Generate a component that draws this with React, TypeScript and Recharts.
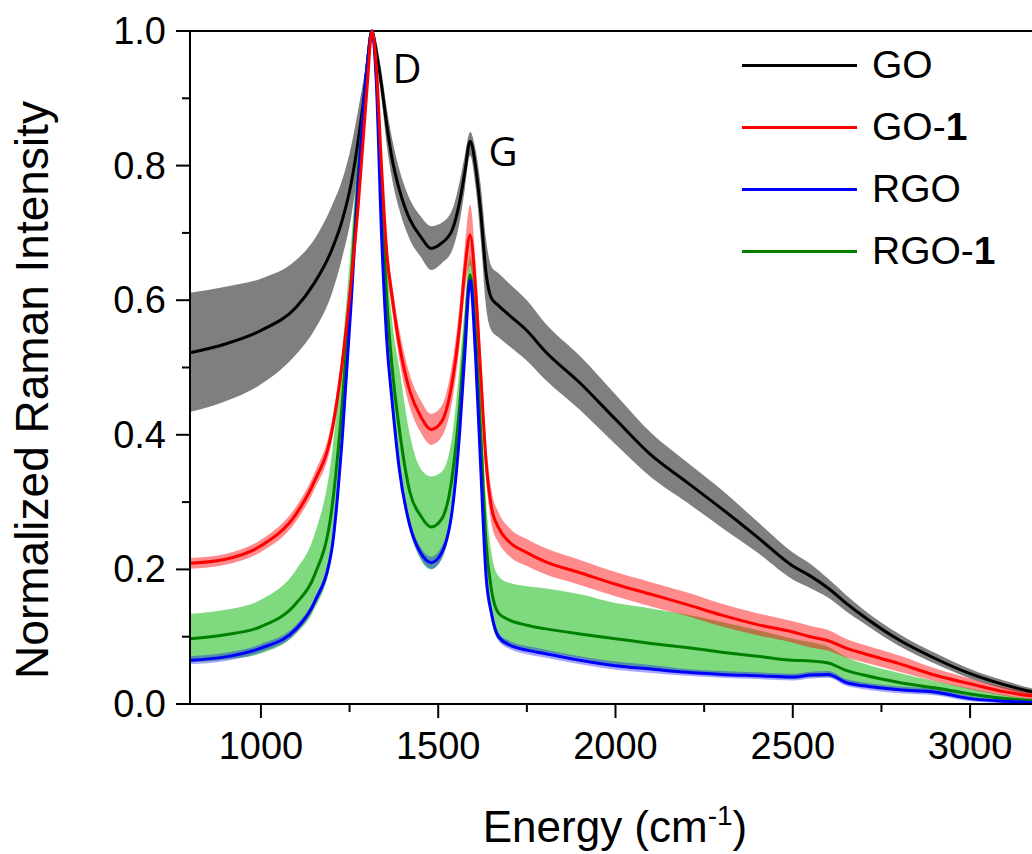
import React from 'react';
import { ComposedChart, Area, Line, XAxis, YAxis, ReferenceLine, ReferenceDot, Legend } from 'recharts';

// Raman shift (cm-1)
const ENERGY = [
  800, 900, 1000, 1100, 1150, 1200, 1230, 1255, 1275, 1290,
  1300, 1313, 1325, 1340, 1355, 1370, 1390, 1420, 1450, 1480,
  1510, 1540, 1560, 1575, 1590, 1605, 1620, 1635, 1650, 1670,
  1700, 1750, 1800, 1900, 2000, 2100, 2200, 2300, 2400, 2500,
  2550, 2600, 2650, 2700, 2800, 2900, 3000, 3100, 3200,
];

const GO_MEAN = [
  0.522, 0.535, 0.555, 0.59, 0.625, 0.675, 0.72, 0.775, 0.84, 0.9,
  0.95, 1.0, 0.97, 0.92, 0.86, 0.81, 0.765, 0.72, 0.695, 0.677,
  0.685, 0.705, 0.745, 0.79, 0.836, 0.8, 0.73, 0.64, 0.603, 0.592,
  0.578, 0.555, 0.525, 0.477, 0.423, 0.37, 0.33, 0.29, 0.248, 0.205,
  0.19, 0.172, 0.15, 0.13, 0.095, 0.068, 0.045, 0.028, 0.015,
];
const GO_LOW = [
  0.434, 0.45, 0.475, 0.52, 0.555, 0.61, 0.665, 0.725, 0.8, 0.87,
  0.93, 0.99, 0.955, 0.9, 0.83, 0.78, 0.735, 0.69, 0.665, 0.645,
  0.655, 0.675, 0.715, 0.765, 0.815, 0.77, 0.69, 0.59, 0.555, 0.545,
  0.532, 0.51, 0.483, 0.437, 0.386, 0.337, 0.3, 0.262, 0.225, 0.185,
  0.172, 0.158, 0.138, 0.12, 0.086, 0.06, 0.038, 0.022, 0.01,
];
const GO_HIGH = [
  0.611, 0.62, 0.632, 0.66, 0.69, 0.74, 0.78, 0.83, 0.885, 0.93,
  0.965, 1.0, 0.985, 0.94, 0.885, 0.84, 0.795, 0.75, 0.725, 0.71,
  0.715, 0.735, 0.775, 0.815, 0.85, 0.825, 0.77, 0.69, 0.65, 0.64,
  0.625, 0.6, 0.567, 0.517, 0.46, 0.403, 0.36, 0.318, 0.271, 0.225,
  0.208, 0.186, 0.162, 0.14, 0.104, 0.076, 0.052, 0.034, 0.02,
];

const GO1_MEAN = [
  0.209, 0.215, 0.235, 0.283, 0.33, 0.405, 0.51, 0.63, 0.745, 0.85,
  0.92, 1.0, 0.95, 0.8, 0.67, 0.605, 0.535, 0.465, 0.428, 0.408,
  0.42, 0.48, 0.56, 0.645, 0.697, 0.62, 0.49, 0.36, 0.293, 0.262,
  0.241, 0.225, 0.212, 0.195, 0.178, 0.163, 0.148, 0.132, 0.118, 0.107,
  0.1, 0.094, 0.083, 0.075, 0.06, 0.043, 0.03, 0.018, 0.01,
];
const GO1_LOW = [
  0.201, 0.207, 0.226, 0.272, 0.318, 0.39, 0.495, 0.615, 0.73, 0.837,
  0.908, 0.99, 0.935, 0.78, 0.65, 0.585, 0.512, 0.441, 0.404, 0.385,
  0.397, 0.452, 0.53, 0.61, 0.652, 0.58, 0.455, 0.335, 0.268, 0.24,
  0.22, 0.205, 0.193, 0.177, 0.16, 0.145, 0.131, 0.115, 0.102, 0.091,
  0.084, 0.079, 0.069, 0.062, 0.048, 0.034, 0.022, 0.012, 0.005,
];
const GO1_HIGH = [
  0.217, 0.223, 0.244, 0.294, 0.342, 0.42, 0.525, 0.645, 0.76, 0.863,
  0.932, 1.0, 0.965, 0.82, 0.69, 0.625, 0.558, 0.489, 0.452, 0.431,
  0.443, 0.508, 0.59, 0.68, 0.742, 0.66, 0.525, 0.39, 0.318, 0.285,
  0.262, 0.245, 0.232, 0.214, 0.196, 0.181, 0.166, 0.149, 0.135, 0.123,
  0.116, 0.11, 0.097, 0.088, 0.072, 0.053, 0.038, 0.024, 0.015,
];

const RGO_MEAN = [
  0.065, 0.07, 0.083, 0.112, 0.15, 0.23, 0.4, 0.6, 0.78, 0.89,
  0.95, 1.0, 0.93, 0.7, 0.54, 0.45, 0.35, 0.265, 0.225, 0.21,
  0.225, 0.29, 0.4, 0.52, 0.63, 0.52, 0.35, 0.19, 0.135, 0.1,
  0.088, 0.08, 0.075, 0.065, 0.057, 0.052, 0.047, 0.044, 0.042, 0.04,
  0.043, 0.044, 0.032, 0.027, 0.021, 0.018, 0.008, 0.004, 0.002,
];
const RGO_LOW = [
  0.059, 0.064, 0.077, 0.106, 0.144, 0.223, 0.392, 0.592, 0.772, 0.884,
  0.944, 0.995, 0.923, 0.692, 0.532, 0.442, 0.342, 0.257, 0.217, 0.201,
  0.216, 0.282, 0.392, 0.512, 0.622, 0.512, 0.342, 0.183, 0.129, 0.094,
  0.082, 0.074, 0.069, 0.059, 0.051, 0.046, 0.042, 0.039, 0.037, 0.035,
  0.038, 0.039, 0.027, 0.022, 0.016, 0.013, 0.004, 0.001, 0.0,
];
const RGO_HIGH = [
  0.071, 0.076, 0.089, 0.118, 0.156, 0.237, 0.408, 0.608, 0.788, 0.896,
  0.956, 1.0, 0.937, 0.708, 0.548, 0.458, 0.358, 0.273, 0.233, 0.219,
  0.234, 0.298, 0.408, 0.528, 0.638, 0.528, 0.358, 0.197, 0.141, 0.106,
  0.094, 0.086, 0.081, 0.071, 0.063, 0.058, 0.052, 0.049, 0.047, 0.045,
  0.048, 0.049, 0.037, 0.032, 0.026, 0.023, 0.012, 0.007, 0.004,
];

const RGO1_MEAN = [
  0.097, 0.103, 0.115, 0.15, 0.19, 0.29, 0.45, 0.63, 0.79, 0.89,
  0.95, 1.0, 0.94, 0.76, 0.6, 0.5, 0.41, 0.315, 0.28, 0.263,
  0.275, 0.34, 0.44, 0.545, 0.638, 0.55, 0.4, 0.24, 0.17, 0.135,
  0.125, 0.117, 0.112, 0.104, 0.097, 0.09, 0.084, 0.077, 0.071, 0.065,
  0.064, 0.061, 0.05, 0.043, 0.032, 0.024, 0.015, 0.008, 0.004,
];
const RGO1_LOW = [
  0.062, 0.066, 0.075, 0.105, 0.14, 0.22, 0.38, 0.58, 0.76, 0.87,
  0.93, 0.99, 0.92, 0.71, 0.55, 0.44, 0.35, 0.26, 0.215, 0.2,
  0.215, 0.29, 0.4, 0.51, 0.62, 0.51, 0.35, 0.19, 0.125, 0.095,
  0.085, 0.08, 0.077, 0.068, 0.058, 0.053, 0.048, 0.044, 0.041, 0.037,
  0.04, 0.04, 0.032, 0.028, 0.02, 0.015, 0.007, 0.003, 0.001,
];
const RGO1_HIGH = [
  0.134, 0.14, 0.155, 0.2, 0.25, 0.37, 0.53, 0.69, 0.83, 0.92,
  0.97, 1.0, 0.96, 0.8, 0.66, 0.57, 0.5, 0.4, 0.35, 0.338,
  0.345, 0.4, 0.5, 0.59, 0.665, 0.6, 0.46, 0.3, 0.225, 0.19,
  0.18, 0.175, 0.172, 0.163, 0.15, 0.142, 0.133, 0.122, 0.11, 0.097,
  0.092, 0.085, 0.07, 0.06, 0.046, 0.034, 0.023, 0.013, 0.007,
];

const X_TICKS = [1000, 1250, 1500, 1750, 2000, 2250, 2500, 2750, 3000];
const X_MAJOR = [1000, 1500, 2000, 2500, 3000];
const Y_TICKS = [0, 0.1, 0.2, 0.3, 0.4, 0.5, 0.6, 0.7, 0.8, 0.9, 1.0];
const Y_MAJOR = [0, 0.2, 0.4, 0.6, 0.8, 1.0];

const LEGEND_NAMES = ['GO', 'GO-', 'RGO', 'RGO-'];
const LEGEND_BOLD = ['', '1', '', '1'];
const LINE_COLORS = ['#000000', '#ff0000', '#0000ff', '#008000'];

const rows = ENERGY.map((e, i) => ({
  e,
  go: GO_MEAN[i],
  goBand: [GO_LOW[i], GO_HIGH[i]],
  go1: GO1_MEAN[i],
  go1Band: [GO1_LOW[i], GO1_HIGH[i]],
  rgo: RGO_MEAN[i],
  rgoBand: [RGO_LOW[i], RGO_HIGH[i]],
  rgo1: RGO1_MEAN[i],
  rgo1Band: [RGO1_LOW[i], RGO1_HIGH[i]],
}));

const FONT = '"Liberation Sans", Arial, sans-serif';

const XTick = (props: any) => {
  const { x, y, payload } = props;
  const major = X_MAJOR.includes(payload.value);
  return (
    <g>
      <line x1={x} x2={x} y1={y} y2={y + (major ? 14 : 8)} stroke="#000" strokeWidth={2} />
      {major && (
        <text x={x} y={y + 55} textAnchor="middle" fontSize={38} fontFamily={FONT} fill="#000">
          {payload.value}
        </text>
      )}
    </g>
  );
};

const YTick = (props: any) => {
  const { x, y, payload } = props;
  const major = Y_MAJOR.some((v) => Math.abs(v - payload.value) < 1e-6);
  return (
    <g>
      <line x1={x - (major ? 14 : 8)} x2={x} y1={y} y2={y} stroke="#000" strokeWidth={2} />
      {major && (
        <text x={x - 24} y={y + 13} textAnchor="end" fontSize={38} fontFamily={FONT} fill="#000">
          {payload.value.toFixed(1)}
        </text>
      )}
    </g>
  );
};

const renderLegend = () => (
  <div style={{ fontFamily: FONT, color: '#000' }}>
    {LEGEND_NAMES.map((name, i) => (
      <div key={name} style={{ display: 'flex', alignItems: 'center', height: 62 }}>
        <div style={{ width: 115, height: 3, background: LINE_COLORS[i] }} />
        <span style={{ marginLeft: 15, fontSize: 39, lineHeight: '62px' }}>
          {name}
          {LEGEND_BOLD[i] && <b>{LEGEND_BOLD[i]}</b>}
        </span>
      </div>
    ))}
  </div>
);

export default function App() {
  return (
    <div style={{ position: 'absolute', left: 0, top: 0, width: 1032, height: 854, overflow: 'hidden', background: '#fff' }}>
      <ComposedChart width={1041} height={854} data={rows} margin={{ top: 31, right: 0, bottom: 0, left: 0 }}>
        <XAxis
          dataKey="e"
          type="number"
          domain={[800, 3200]}
          ticks={X_TICKS}
          interval={0}
          tickSize={0}
          tickMargin={0}
          tick={<XTick />}
          axisLine={{ stroke: '#000', strokeWidth: 2 }}
          height={150}
          label={{
            content: () => (
              <text x={615} y={842} textAnchor="middle" fontSize={44} fontFamily={FONT} fill="#000">
                Energy (cm
                <tspan dy={-17} fontSize={28}>-1</tspan>
                <tspan dy={17}>)</tspan>
              </text>
            ),
          }}
        />
        <YAxis
          type="number"
          domain={[0, 1]}
          ticks={Y_TICKS}
          interval={0}
          tickSize={0}
          tickMargin={0}
          tick={<YTick />}
          axisLine={{ stroke: '#000', strokeWidth: 2 }}
          width={190}
          label={{
            content: () => (
              <text
                x={48}
                y={390}
                transform="rotate(-90 48 390)"
                textAnchor="middle"
                fontSize={46}
                fontFamily={FONT}
                fill="#000"
              >
                Normalized Raman Intensity
              </text>
            ),
          }}
        />
        <ReferenceLine y={1} stroke="#000" strokeWidth={2} />

        <Area dataKey="goBand" type="monotone" stroke="none" fill="#000000" fillOpacity={0.5} isAnimationActive={false} legendType="none" />
        <Area dataKey="rgo1Band" type="monotone" stroke="none" fill="#00b400" fillOpacity={0.5} isAnimationActive={false} legendType="none" />
        <Area dataKey="go1Band" type="monotone" stroke="none" fill="#ff0000" fillOpacity={0.45} isAnimationActive={false} legendType="none" />
        <Area dataKey="rgoBand" type="monotone" stroke="none" fill="#0000ff" fillOpacity={0.35} isAnimationActive={false} legendType="none" />

        <Line dataKey="go" name="GO" type="monotone" stroke="#000000" strokeWidth={3} dot={false} isAnimationActive={false} />
        <Line dataKey="rgo1" name="RGO-1" type="monotone" stroke="#008000" strokeWidth={3} dot={false} isAnimationActive={false} />
        <Line dataKey="rgo" name="RGO" type="monotone" stroke="#0000ff" strokeWidth={3} dot={false} isAnimationActive={false} />
        <Line dataKey="go1" name="GO-1" type="monotone" stroke="#ff0000" strokeWidth={3} dot={false} isAnimationActive={false} />

        <ReferenceDot x={1412} y={0.944} r={0} fill="none" stroke="none"
          label={{ value: 'D', position: 'center', fontSize: 40, fontFamily: '"Open Sans", sans-serif', fill: '#000' }} />
        <ReferenceDot x={1683} y={0.821} r={0} fill="none" stroke="none"
          label={{ value: 'G', position: 'center', fontSize: 40, fontFamily: '"Open Sans", sans-serif', fill: '#000' }} />

        <Legend
          content={renderLegend}
          layout="horizontal"
          verticalAlign="middle"
          wrapperStyle={{ left: 742, top: 34, width: 290 }}
        />
      </ComposedChart>
    </div>
  );
}
